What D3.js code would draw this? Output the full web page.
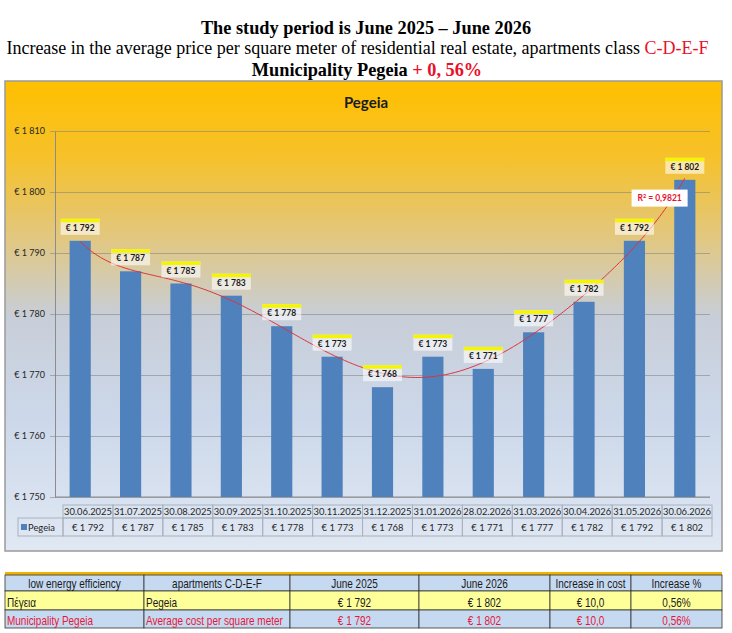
<!DOCTYPE html>
<html>
<head>
<meta charset="utf-8">
<script src="https://cdn.jsdelivr.net/npm/d3@7"></script>
<style>
  body { margin: 0; background: #fff; }
  .serif { font-family: "Liberation Serif", "Times New Roman", serif; }
</style>
</head>
<body>
<div id="chart"></div>
<script>
// values
const dates = ['30.06.2025', '31.07.2025', '30.08.2025', '30.09.2025', '31.10.2025', '30.11.2025',
  '31.12.2025', '31.01.2026', '28.02.2026', '31.03.2026', '30.04.2026', '31.05.2026', '30.06.2026']
const prices = [1792, 1787, 1785, 1783, 1778, 1773, 1768, 1773, 1771, 1777, 1782, 1792, 1802]
const yTicks = [1750, 1760, 1770, 1780, 1790, 1800, 1810]
const seriesName = 'Pegeia'
const chartTitle = 'Pegeia'
const targetR2 = 0.9821 // shown on the trendline label
const summaryHeader = ['low energy efficiency', 'apartments C-D-E-F', 'June 2025', 'June 2026', 'Increase in cost', 'Increase %']
const summaryNames = [['Πέγεια', 'Pegeia'], ['Municipality Pegeia', 'Average cost per square meter']]

const W = 732
const H = 633
const sans = 'Lato, "Open Sans", sans-serif'
const narrow = '"Liberation Sans", Arial, sans-serif' // squeezed below to look like Arial Narrow

const loc = d3.formatLocale({ decimal: ',', thousands: ' ', grouping: [3], currency: ['€ ', ''] })
const euro = v => '€ ' + loc.format(',')(v)

const svg = d3.select('#chart').append('svg')
  .attr('width', W)
  .attr('height', H)

// ---- page titles
const first = prices[0]
const last = prices[prices.length - 1]
const pct = (last - first) / first * 100
const pctText = loc.format('.2f')(pct) + '%'

svg.append('text')
  .attr('class', 'serif')
  .attr('x', 366).attr('y', 34)
  .attr('text-anchor', 'middle')
  .style('font-weight', 'bold').style('font-size', '18.3px')
  .text('The study period is June 2025 – June 2026')

const t2 = svg.append('text')
  .attr('class', 'serif')
  .attr('x', 357.5).attr('y', 54)
  .attr('text-anchor', 'middle')
  .style('font-size', '18px')
t2.append('tspan')
  .text('Increase in the average price per square meter of residential real estate, apartments class ')
t2.append('tspan').attr('fill', '#e8102a').text('C-D-E-F')

const t3 = svg.append('text')
  .attr('class', 'serif')
  .attr('x', 367).attr('y', 76)
  .attr('text-anchor', 'middle')
  .style('font-weight', 'bold').style('font-size', '18.3px')
t3.append('tspan').text('Municipality Pegeia ')
t3.append('tspan').attr('fill', '#e8102a').text('+ ' + loc.format('.2f')(pct).replace(',', ', ') + '%')

// ---- chart frame with gradient
const defs = svg.append('defs')
const grad = defs.append('linearGradient')
  .attr('id', 'bg').attr('x1', 0).attr('y1', 0).attr('x2', 0).attr('y2', 1)
const stops = [[0, '#ffc000'], [0.16, '#f6c12a'], [0.33, '#e2c77e'], [0.5, '#c8ced8'], [0.72, '#ccd8ea'], [1, '#e0e8f3']]
grad.selectAll('stop').data(stops).enter().append('stop')
  .attr('offset', d => d[0])
  .attr('stop-color', d => d[1])

svg.append('rect')
  .attr('x', 5).attr('y', 81).attr('width', 717).attr('height', 470)
  .attr('fill', 'url(#bg)')
  .attr('stroke', '#9a9a9a').attr('stroke-width', 1.5)

svg.append('text')
  .attr('x', 366).attr('y', 108)
  .attr('text-anchor', 'middle')
  .style('font-family', sans).style('font-weight', 'bold').style('font-size', '15px')
  .attr('fill', '#1a1a1a')
  .text(chartTitle)

// ---- scales
const margin = { left: 55, right: 710, top: 131, bottom: 497 }
const x = d3.scaleBand().domain(dates).range([margin.left, margin.right]).paddingInner(0.58).paddingOuter(0.29)
const y = d3.scaleLinear().domain([1750, 1810]).range([margin.bottom, margin.top])
const xc = d => x(d) + x.bandwidth() / 2

// gridlines + y axis
const yAxis = d3.axisLeft(y).tickValues(yTicks).tickFormat(euro).tickSize(-(margin.right - margin.left)).tickSizeOuter(0)
const gy = svg.append('g')
  .attr('transform', `translate(${margin.left},0)`)
  .call(yAxis)
gy.select('.domain').attr('stroke', '#8c8c8c')
gy.selectAll('.tick line').attr('stroke', '#7f7f7f').attr('stroke-opacity', 0.55).attr('x1', -5)
gy.selectAll('.tick text')
  .attr('x', -10)
  .attr('font-family', sans).attr('font-size', 9).attr('fill', '#262626')

svg.append('line')
  .attr('x1', margin.left).attr('x2', margin.right)
  .attr('y1', margin.bottom).attr('y2', margin.bottom)
  .attr('stroke', '#8c8c8c')

// bars
svg.append('g').selectAll('rect')
  .data(dates)
  .enter()
  .append('rect')
  .attr('x', d => x(d))
  .attr('width', x.bandwidth())
  .attr('y', (d, i) => y(prices[i]))
  .attr('height', (d, i) => margin.bottom - y(prices[i]))
  .attr('fill', '#4f81bd')

// ---- polynomial trendline (least squares, like the spreadsheet one)
function polyFit (xs, ys, order) {
  const n = order + 1
  const A = Array.from({ length: n }, () => new Array(n + 1).fill(0))
  xs.forEach((xv, k) => {
    for (let i = 0; i < n; i++) {
      for (let j = 0; j < n; j++) A[i][j] += Math.pow(xv, i + j)
      A[i][n] += ys[k] * Math.pow(xv, i)
    }
  })
  for (let c = 0; c < n; c++) {
    let p = c
    for (let r = c + 1; r < n; r++) if (Math.abs(A[r][c]) > Math.abs(A[p][c])) p = r
    const tmp = A[c]; A[c] = A[p]; A[p] = tmp
    for (let r = 0; r < n; r++) {
      if (r === c) continue
      const f = A[r][c] / A[c][c]
      for (let k = c; k <= n; k++) A[r][k] -= f * A[c][k]
    }
  }
  return A.map((row, i) => row[n] / row[i])
}
const polyVal = (coef, xv) => coef.reduce((s, c, i) => s + c * Math.pow(xv, i), 0)

const half = (prices.length - 1) / 2
const xs = prices.map((d, i) => (i - half) / half)
const meanY = d3.mean(prices)
const ssTot = d3.sum(prices, v => (v - meanY) ** 2)
let best = null
for (let order = 2; order <= 6; order++) {
  const coef = polyFit(xs, prices, order)
  const ssRes = d3.sum(prices, (v, i) => (v - polyVal(coef, xs[i])) ** 2)
  const r2 = 1 - ssRes / ssTot
  if (!best || Math.abs(r2 - targetR2) < Math.abs(best.r2 - targetR2)) best = { order, coef, r2 }
}

const idx = d3.scaleLinear().domain([0, prices.length - 1]).range([xc(dates[0]), xc(dates[dates.length - 1])])
const curve = d3.range(0, prices.length - 1 + 0.001, 0.05)
const line = d3.line()
  .x(t => idx(t))
  .y(t => y(polyVal(best.coef, (t - half) / half)))
svg.append('path')
  .datum(curve)
  .attr('fill', 'none')
  .attr('stroke', '#e0323c')
  .attr('stroke-width', 1)
  .attr('d', line)

// data labels
const lbl = svg.append('g').selectAll('g')
  .data(dates)
  .enter()
  .append('g')
  .attr('transform', (d, i) => `translate(${xc(d)},${y(prices[i]) - 6})`)
lbl.append('rect')
  .attr('x', -19.5).attr('y', -16).attr('width', 39).attr('height', 16)
  .attr('fill', '#ffffff').attr('fill-opacity', 0.6)
lbl.append('rect')
  .attr('x', -19.5).attr('y', -16).attr('width', 39).attr('height', 3.5)
  .attr('fill', '#f5f500')
lbl.append('text')
  .attr('y', -4)
  .attr('text-anchor', 'middle')
  .attr('font-family', sans).attr('font-weight', 'bold').attr('font-size', 8.5)
  .attr('fill', '#1a1a1a')
  .text((d, i) => euro(prices[i]))

// R² label
const rg = svg.append('g')
  .attr('transform', `translate(${idx(prices.length - 1.5)},${y(1799)})`)
rg.append('rect')
  .attr('x', -28).attr('y', -8.5).attr('width', 56).attr('height', 17)
  .attr('fill', '#fff')
const rt = rg.append('text')
  .attr('y', 3)
  .attr('text-anchor', 'middle')
  .attr('font-family', sans).attr('font-weight', 'bold').attr('font-size', 8.5)
  .attr('fill', '#e8102a')
rt.append('tspan').text('R')
rt.append('tspan').attr('dy', -3).attr('font-size', 5.5).text('2')
rt.append('tspan').attr('dy', 3).text(' = ' + loc.format('.4f')(targetR2))

// ---- data table under the chart
const tLeft = 63
const tRight = 712
const colW = (tRight - tLeft) / dates.length
const tableGrid = '#a9b1bd'
const tg = svg.append('g')
const cells = tg.selectAll('g')
  .data(dates)
  .enter()
  .append('g')
  .attr('transform', (d, i) => `translate(${tLeft + i * colW},0)`)
cells.append('rect')
  .attr('y', 505).attr('width', colW).attr('height', 13)
  .attr('fill', 'none').attr('stroke', tableGrid)
cells.append('rect')
  .attr('y', 518).attr('width', colW).attr('height', 18)
  .attr('fill', 'none').attr('stroke', tableGrid)
cells.append('text')
  .attr('x', colW / 2).attr('y', 515)
  .attr('text-anchor', 'middle')
  .attr('font-family', sans).attr('font-size', 9.4).attr('fill', '#262626')
  .text(d => d)
cells.append('text')
  .attr('x', colW / 2).attr('y', 530.5)
  .attr('text-anchor', 'middle')
  .attr('font-family', sans).attr('font-size', 9.4).attr('fill', '#262626')
  .text((d, i) => euro(prices[i]))

tg.append('rect')
  .attr('x', 18).attr('y', 518).attr('width', tLeft - 18).attr('height', 18)
  .attr('fill', 'none').attr('stroke', tableGrid)
tg.append('rect')
  .attr('x', 21).attr('y', 524).attr('width', 6).attr('height', 6)
  .attr('fill', '#4f81bd')
tg.append('text')
  .attr('x', 28).attr('y', 530.5)
  .attr('font-family', sans).attr('font-size', 9.4).attr('fill', '#262626')
  .text(seriesName)

// ---- summary table at the bottom
const colEdges = [5, 144, 290, 419, 550, 631, 722]
const rowEdges = [575, 591, 610, 628]
const diffText = '€ ' + loc.format('.1f')(last - first)
const summaryRows = summaryNames.map(n => [n[0], n[1], euro(first), euro(last), diffText, pctText])
const rowFill = ['#c5d9f1', '#ffff99', '#c5d9f1']
const rowColor = ['#1a1a1a', '#1a1a1a', '#e8173a']
const allRows = [summaryHeader].concat(summaryRows)
const squeeze = 0.8

svg.append('line')
  .attr('x1', colEdges[0]).attr('x2', colEdges[colEdges.length - 1])
  .attr('y1', 573.5).attr('y2', 573.5)
  .attr('stroke', '#f0b400').attr('stroke-width', 3)

const sg = svg.append('g')
// cell backgrounds first, so no text gets covered by a neighbour
allRows.forEach((row, r) => {
  row.forEach((txt, c) => {
    sg.append('rect')
      .attr('x', colEdges[c]).attr('y', rowEdges[r])
      .attr('width', colEdges[c + 1] - colEdges[c]).attr('height', rowEdges[r + 1] - rowEdges[r])
      .attr('fill', rowFill[r]).attr('stroke', '#333').attr('stroke-width', 0.8)
  })
})
allRows.forEach((row, r) => {
  row.forEach((txt, c) => {
    const x0 = colEdges[c]
    const x1 = colEdges[c + 1]
    const left = r > 0 && c < 2
    const tx = left ? x0 + 2 : (x0 + x1) / 2
    sg.append('g')
      .attr('transform', `translate(${tx},${rowEdges[r + 1] - 3.5}) scale(${squeeze},1)`)
      .append('text')
      .attr('text-anchor', left ? 'start' : 'middle')
      .attr('font-family', narrow).attr('font-size', 12.5)
      .attr('fill', rowColor[r])
      .text(txt)
  })
})
</script>
</body>
</html>
